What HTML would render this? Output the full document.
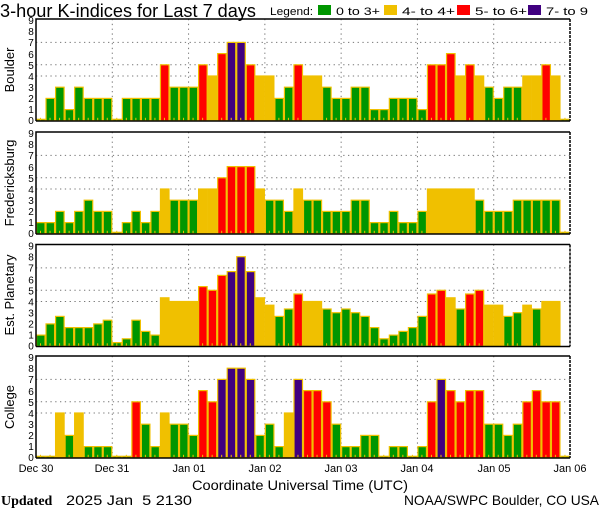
<!DOCTYPE html>
<html><head><meta charset="utf-8"><style>
body{margin:0;background:#fff;}
svg{display:block;font-family:"Liberation Sans",sans-serif;}
</style></head><body>
<svg id="s" width="600" height="510" viewBox="0 0 600 510" xmlns="http://www.w3.org/2000/svg">
<rect width="600" height="510" fill="#fff"/>
<g id="bars"></g>
<text x="0" y="17" font-size="18" textLength="256" lengthAdjust="spacingAndGlyphs">3-hour K-indices for Last 7 days</text>
<text x="270" y="15" font-size="11" textLength="43" lengthAdjust="spacingAndGlyphs">Legend:</text>
<rect x="318" y="5" width="13" height="10" fill="#009600"/>
<text x="336" y="15" font-size="11" textLength="44" lengthAdjust="spacingAndGlyphs">0 to 3+</text>
<rect x="384" y="5" width="13" height="10" fill="#f0c000"/>
<text x="402" y="15" font-size="11" textLength="53" lengthAdjust="spacingAndGlyphs">4- to 4+</text>
<rect x="457" y="5" width="13" height="10" fill="#ff0000"/>
<text x="475" y="15" font-size="11" textLength="52" lengthAdjust="spacingAndGlyphs">5- to 6+</text>
<rect x="528" y="5" width="13" height="10" fill="#400080"/>
<text x="546" y="15" font-size="11" textLength="42" lengthAdjust="spacingAndGlyphs">7- to 9</text>
<g font-size="13" text-anchor="middle">
<text transform="translate(14,70) rotate(-90)">Boulder</text>
<text transform="translate(14,183) rotate(-90)">Fredericksburg</text>
<text transform="translate(14,295) rotate(-90)">Est. Planetary</text>
<text transform="translate(14,407) rotate(-90)">College</text>
</g>
<g font-size="10" text-anchor="middle">
<g transform="translate(0,0)">
<text x="31" y="24">9</text><text x="31" y="35">8</text><text x="31" y="46">7</text><text x="31" y="58">6</text><text x="31" y="69">5</text><text x="31" y="80">4</text><text x="31" y="91">3</text><text x="31" y="102">2</text><text x="31" y="113">1</text><text x="31" y="124">0</text>
</g>
<g transform="translate(0,113)">
<text x="31" y="24">9</text><text x="31" y="35">8</text><text x="31" y="46">7</text><text x="31" y="58">6</text><text x="31" y="69">5</text><text x="31" y="80">4</text><text x="31" y="91">3</text><text x="31" y="102">2</text><text x="31" y="113">1</text><text x="31" y="124">0</text>
</g>
<g transform="translate(0,225.5)">
<text x="31" y="24">9</text><text x="31" y="35">8</text><text x="31" y="46">7</text><text x="31" y="58">6</text><text x="31" y="69">5</text><text x="31" y="80">4</text><text x="31" y="91">3</text><text x="31" y="102">2</text><text x="31" y="113">1</text><text x="31" y="124">0</text>
</g>
<g transform="translate(0,337)">
<text x="31" y="24">9</text><text x="31" y="35">8</text><text x="31" y="46">7</text><text x="31" y="58">6</text><text x="31" y="69">5</text><text x="31" y="80">4</text><text x="31" y="91">3</text><text x="31" y="102">2</text><text x="31" y="113">1</text><text x="31" y="124">0</text>
</g>
</g>
<g font-size="11" text-anchor="middle">
<text x="36" y="472">Dec 30</text>
<text x="112" y="472">Dec 31</text>
<text x="189" y="472">Jan 01</text>
<text x="265" y="472">Jan 02</text>
<text x="341" y="472">Jan 03</text>
<text x="417" y="472">Jan 04</text>
<text x="494" y="472">Jan 05</text>
<text x="570" y="472">Jan 06</text>
</g>
<text x="192" y="490" font-size="14" textLength="216" lengthAdjust="spacingAndGlyphs">Coordinate Universal Time (UTC)</text>
<text x="1" y="505" font-size="14" font-weight="bold" font-family="Liberation Serif,serif">Updated</text>
<text x="66" y="505" font-size="14" textLength="126" lengthAdjust="spacingAndGlyphs" xml:space="preserve" style="white-space:pre">2025 Jan  5 2130</text>
<text x="404" y="505" font-size="14" textLength="195" lengthAdjust="spacingAndGlyphs">NOAA/SWPC Boulder, CO USA</text>
</svg>
<script>
(function(){
var D=[
[0,2,3,1,3,2,2,2,0,2,2,2,2,5,3,3,3,5,4,6,7,7,5,4,4,2,3,5,4,4,3,2,2,3,3,1,1,2,2,2,1,5,5,6,4,5,4,3,2,3,3,4,4,5,4,0],
[1,1,2,1,2,3,2,2,0,1,2,1,2,4,3,3,3,4,4,5,6,6,6,4,3,3,2,4,3,3,2,2,2,3,3,1,1,2,1,1,2,4,4,4,4,4,3,2,2,2,3,3,3,3,3,0],
[1,2,2.67,1.67,1.67,1.67,2,2.33,0.33,0.67,2.33,1.33,1,4.33,4,4,4,5.33,5,6.33,6.67,8,6.67,4.33,3.67,2.67,3.33,4.67,4,4,3.33,3,3.33,3,2.67,1.67,0.67,1,1.33,1.67,2.67,4.67,5,4.33,3.33,4.67,5,3.67,3.67,2.67,3,3.67,3.33,4,4,-1],
[0,0,4,2,4,1,1,1,0,0,5,3,1,4,3,3,2,6,5,7,8,8,7,2,3,1,4,7,6,6,5,3,1,1,2,2,0,1,1,0,1,5,7,6,5,6,6,3,3,2,3,5,6,5,5,0]];
var tops=[19,132,244.5,356],H=102,L=36,R=570,W=(R-L)/56,U=11.2;
var ns="http://www.w3.org/2000/svg",g=document.getElementById('bars');
function el(t,a){var e=document.createElementNS(ns,t);for(var k in a)e.setAttribute(k,a[k]);g.appendChild(e);return e;}
function col(v){return v<3.5?'#009600':v<4.5?'#f0c000':v<6.5?'#ff0000':'#400080';}
for(var p=0;p<4;p++){
 var T=tops[p],B=T+H,y0=T+1+9*U;
 var ly=function(v){return y0-v*U;};
 [4,5,7].forEach(function(v){el('line',{x1:L,x2:R,y1:ly(v),y2:ly(v),stroke:'#777','stroke-dasharray':'1.3 3.5'});});
 for(var d=1;d<7;d++){var xx=L+d*W*8;el('line',{x1:xx,x2:xx,y1:T,y2:B,stroke:'#777','stroke-dasharray':'1.3 3.5'});}
 for(var i=0;i<56;i++){var v=D[p][i];if(v<0)continue;var x=L+i*W,yt=v==0?y0-1.5:ly(v);
  el('rect',{x:x+0.5,y:yt,width:W-1,height:y0-yt,fill:col(v),stroke:'#f0c000','stroke-width':1.2});
  el('rect',{x:x+4,y:y0-3,width:1,height:3,fill:'#f0c000'});}
 el('path',{d:'M'+L+' '+B+'V'+T+'H'+R,fill:'none',stroke:'#000','stroke-width':1.5});
 el('line',{x1:L,x2:R,y1:B,y2:B,stroke:'#000','stroke-width':1.5});
 el('line',{x1:R,x2:R,y1:T,y2:B,stroke:'#000','stroke-width':1.5,'stroke-dasharray':'3 1'});
}
})();
</script>
</body></html>
